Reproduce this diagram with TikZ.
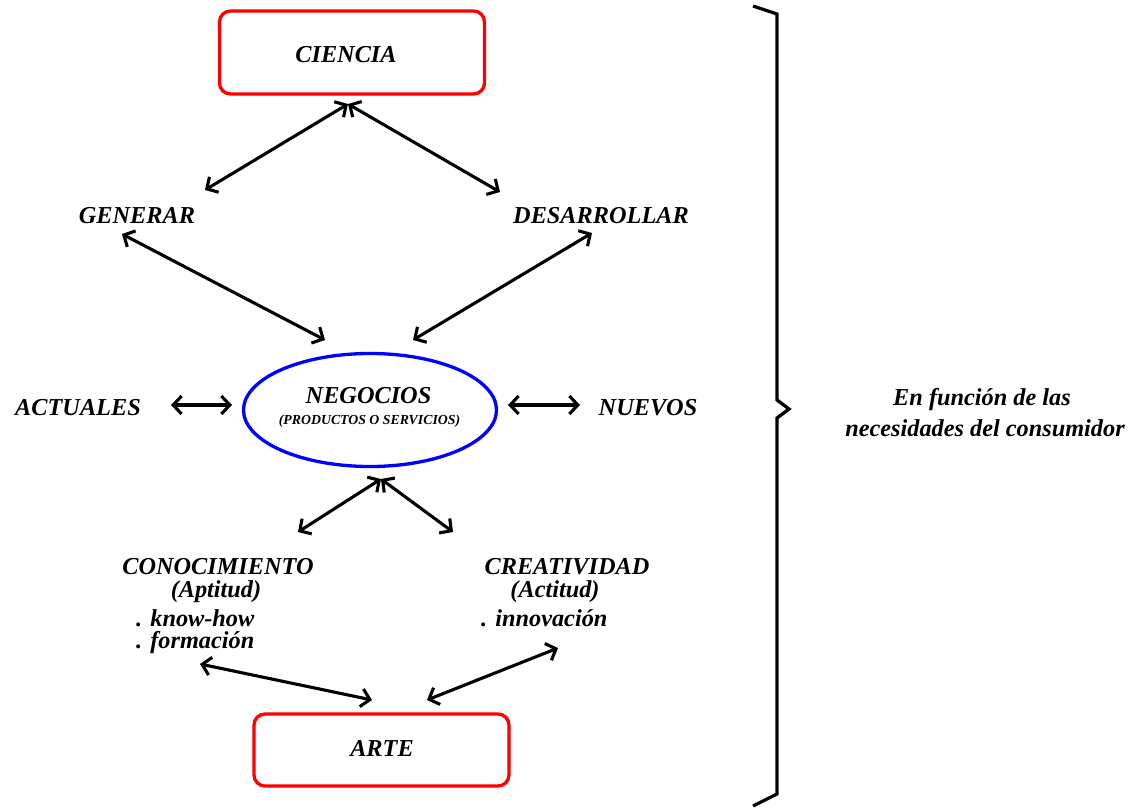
\documentclass[tikz,border=0pt]{standalone}
\usepackage{fontspec}
\setmainfont{Liberation Serif}
\usetikzlibrary{arrows.meta,shapes.geometric}

\begin{document}
\begin{tikzpicture}[x=1pt,y=-1pt,
  lbl/.style={font=\fontsize{24.3}{24.3}\selectfont\bfseries\itshape, inner sep=0pt},
  tight/.style={text height=15pt, text depth=2pt},
  small/.style={font=\fontsize{13.8}{13.8}\selectfont\bfseries\itshape, inner sep=0pt},
  redbox/.style={draw=red, line width=3.3pt, rounded corners=11pt, inner sep=0pt},
  bubble/.style={ellipse, draw=blue, line width=3.3pt, inner sep=0pt},
  link/.style={line width=3.1pt,
    {Straight Barb[length=8.5pt,width=18pt]}-{Straight Barb[length=8.5pt,width=18pt]}},
  bracket/.style={line width=3.3pt, line join=miter}]
\useasboundingbox (0,0) rectangle (1135,808);

% main blocks
\node[redbox, minimum width=265pt, minimum height=83pt] (cien) at (352,52.5) {};
\node[lbl, anchor=base] (cientxt) at (346,63) {CIENCIA};
\node[redbox, minimum width=255pt, minimum height=72pt] (arte) at (381.5,750) {};
\node[lbl, anchor=base] (artetxt) at (382,756) {ARTE};
\node[bubble, minimum width=253pt, minimum height=113pt] (neg) at (370,410) {};
\node[lbl, anchor=base] (negtxt) at (368.5,403) {NEGOCIOS};
\node[small, anchor=base] (prodtxt) at (369.5,424) {(PRODUCTOS O SERVICIOS)};

% labels
\node[lbl, anchor=base] (gen) at (137,223) {GENERAR};
\node[lbl, anchor=base] (des) at (601,223) {DESARROLLAR};
\node[lbl, anchor=base] (act) at (78,415) {ACTUALES};
\node[lbl, anchor=base] (nue) at (648,415) {NUEVOS};
\node[lbl, tight, anchor=base] (cono) at (218,574) {CONOCIMIENTO};
\node[lbl, tight, anchor=base] (apt) at (216,597) {(Aptitud)};
\node[lbl, tight, anchor=base west] (know) at (136,626) {. know-how};
\node[lbl, tight, anchor=base west] (form) at (136,648) {. formación};
\node[lbl, tight, anchor=base] (crea) at (567,574) {CREATIVIDAD};
\node[lbl, tight, anchor=base] (acti) at (555,597) {(Actitud)};
\node[lbl, tight, anchor=base west] (inno) at (481,626) {. innovación};
\node[lbl, anchor=base] (func) at (982,405) {En función de las};
\node[lbl, anchor=base] (nece) at (985,436) {necesidades del consumidor};

% connector end points
\coordinate (cA) at (348,104);
\coordinate (gA) at (205,190);
\coordinate (dA) at (500,192);
\coordinate (gB) at (122,234);
\coordinate (nA) at (325,340);
\coordinate (dB) at (592,233);
\coordinate (nB) at (413,340);
\coordinate (aA) at (171,405);
\coordinate (nL) at (232,405);
\coordinate (nR) at (508,405);
\coordinate (vA) at (580,405);
\coordinate (nC) at (381,479);
\coordinate (kA) at (298,532);
\coordinate (rA) at (453,532);
\coordinate (kB) at (200,664);
\coordinate (tA) at (372,700);
\coordinate (tB) at (427,700);
\coordinate (rB) at (558,648);

% connectors
\draw[link] (cA) -- (gA);
\draw[link] (cA) -- (dA);
\draw[link] (gB) -- (nA);
\draw[link] (dB) -- (nB);
\draw[link] (aA) -- (nL);
\draw[link] (nR) -- (vA);
\draw[link] (nC) -- (kA);
\draw[link] (nC) -- (rA);
\draw[link] (kB) -- (tA);
\draw[link] (tB) -- (rB);

% right brace
\draw[bracket] (753,6) -- (777,14) -- (777,400) -- (789,409) -- (777,418)
  -- (777,794) -- (753,806);
\end{tikzpicture}
\end{document}
